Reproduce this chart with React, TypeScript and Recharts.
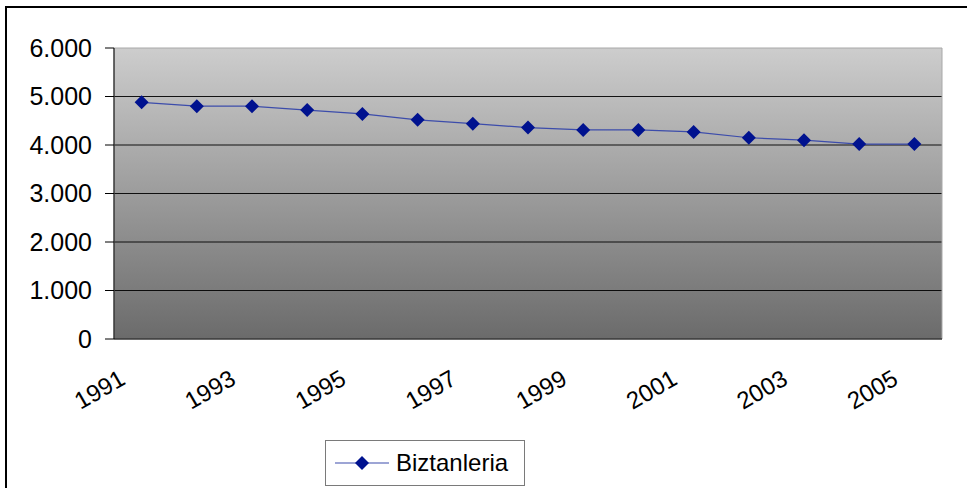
import React from 'react'
import {
  ComposedChart,
  Line,
  XAxis,
  YAxis,
  CartesianGrid,
  ReferenceArea,
  Legend,
} from 'recharts'

const years = ['1991', '1992', '1993', '1994', '1995', '1996', '1997', '1998', '1999', '2000', '2001', '2002', '2003', '2004', '2005']
const population = [4880, 4800, 4800, 4720, 4640, 4520, 4440, 4360, 4310, 4310, 4270, 4150, 4100, 4020, 4020]
const yTicks = [0, 1000, 2000, 3000, 4000, 5000, 6000]
const gridLines = [1000, 2000, 3000, 4000, 5000]

const FONT = '"Liberation Sans", Arial, sans-serif'
const NAVY = '#00128f'
const LINE = '#3c4cab'

// categories sit between the tick marks, like Excel
const data = years.map((year, i) => ({ year, slot: i + 0.5, value: population[i] }))
const boundaries = years.map((_, i) => i).concat(years.length)
const labelSlots = data.filter((_, i) => i % 2 === 0).map(d => d.slot)

const fmt = (v: number) => String(v).replace(/\B(?=(\d{3})+(?!\d))/g, '.')

function Diamond(props: any) {
  const { cx, cy } = props
  if (cx == null || cy == null) return null
  const r = 7
  return <polygon points={`${cx},${cy - r} ${cx + r},${cy} ${cx},${cy + r} ${cx - r},${cy}`} fill={NAVY} />
}

function YearTick(props: any) {
  const { x, y, payload } = props
  const ax = x - 19
  const ay = y + 29
  return (
    <text
      x={ax}
      y={ay}
      textAnchor="end"
      dominantBaseline="central"
      transform={`rotate(-30, ${ax}, ${ay})`}
      fontSize={24}
      fontFamily={FONT}
      fill="#000"
    >
      {years[Math.floor(payload.value)]}
    </text>
  )
}

function LegendBox() {
  return (
    <div
      style={{
        boxSizing: 'border-box',
        width: 200,
        height: 46,
        border: '1px solid #7a7a7a',
        background: '#fff',
        display: 'flex',
        alignItems: 'center',
        fontFamily: FONT,
        fontSize: 24,
        color: '#000',
      }}
    >
      <svg width={62} height={20} style={{ marginLeft: 8 }}>
        <line x1={1} y1={10} x2={55} y2={10} stroke={LINE} strokeWidth={1.2} />
        <Diamond cx={28} cy={10} />
      </svg>
      <span>Biztanleria</span>
    </div>
  )
}

export default function App() {
  return (
    <div style={{ position: 'absolute', left: 0, top: 0, width: 967, height: 488, overflow: 'hidden', background: '#fff' }}>
      <div
        style={{
          position: 'absolute',
          left: 5,
          top: 6,
          width: 990,
          height: 510,
          border: '2px solid #000',
        }}
      />
      <ComposedChart
        width={967}
        height={488}
        data={data}
        margin={{ top: 48, right: 25, left: 0, bottom: 81 }}
        style={{ position: 'absolute', left: 0, top: 0 }}
      >
        <defs>
          <linearGradient id="plotGrad" x1="0" y1="0" x2="0" y2="1">
            <stop offset="0%" stopColor="#cdcdcd" />
            <stop offset="100%" stopColor="#6b6b6b" />
          </linearGradient>
        </defs>
        <CartesianGrid
          xAxisId="grid"
          vertical={false}
          horizontalValues={gridLines}
          stroke="#000"
          strokeOpacity={0.9}
          fill="url(#plotGrad)"
          fillOpacity={1}
        />
        <ReferenceArea
          xAxisId="grid"
          x1={0}
          x2={years.length}
          y1={0}
          y2={6000}
          fill="none"
          stroke="#a8a8a8"
          strokeWidth={1}
        />
        <XAxis
          xAxisId="grid"
          type="number"
          dataKey="slot"
          domain={[0, years.length]}
          ticks={boundaries}
          tick={false}
          tickSize={7}
          height={8}
          stroke="#000"
          axisLine={{ stroke: '#000' }}
          tickLine={{ stroke: '#000' }}
        />
        <XAxis
          xAxisId="years"
          type="number"
          dataKey="slot"
          domain={[0, years.length]}
          ticks={labelSlots}
          axisLine={false}
          tickLine={false}
          tickSize={0}
          tickMargin={0}
          height={60}
          tick={<YearTick />}
          interval={0}
        />
        <YAxis
          type="number"
          domain={[0, 6000]}
          ticks={yTicks}
          width={114}
          tickFormatter={fmt}
          tickSize={9}
          tickMargin={13}
          axisLine={{ stroke: '#000' }}
          tickLine={{ stroke: '#000' }}
          tick={{ fontSize: 25, fontFamily: FONT, fill: '#000' }}
          interval={0}
        />
        <Line
          xAxisId="grid"
          type="linear"
          dataKey="value"
          name="Biztanleria"
          stroke={LINE}
          strokeWidth={1.2}
          dot={<Diamond />}
          activeDot={false}
          isAnimationActive={false}
        />
        <Legend
          layout="horizontal"
          verticalAlign="middle"
          align="center"
          content={<LegendBox />}
          wrapperStyle={{ left: 325, top: 440, width: 200, height: 46 }}
        />
      </ComposedChart>
    </div>
  )
}
